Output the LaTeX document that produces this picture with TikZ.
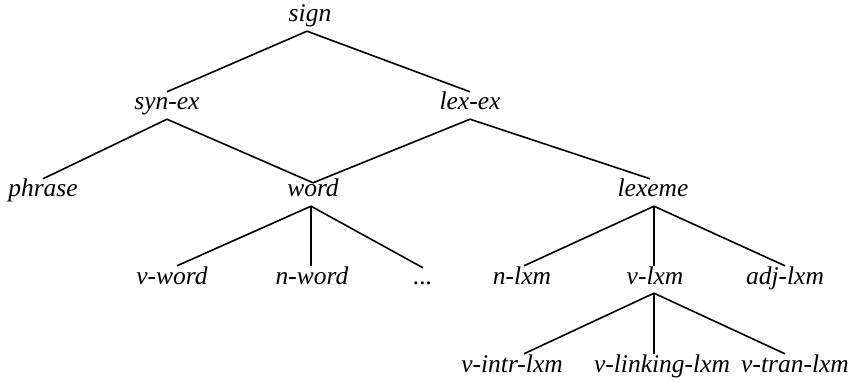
\documentclass[tikz,border=0pt]{standalone}
\usepackage{fontspec}
\setmainfont{Liberation Serif}
\newfontfamily\tyfont{Liberation Serif}[UprightFont={* Italic}]
\begin{document}
\begin{tikzpicture}[x=1pt,y=-1pt,
  typ/.style={anchor=base,inner xsep=0pt,inner ysep=1pt,text height=17pt,text depth=8pt,
    font=\tyfont\fontsize{25.5}{29}\selectfont},
  edge/.style={line width=1.6pt}]
\useasboundingbox (0,0) rectangle (857,382);
\node[typ] (sign) at (310,22) {sign};
\node[typ] (synex) at (167,110) {syn-ex};
\node[typ] (lexex) at (470,110) {lex-ex};
\node[typ] (phrase) at (43,197) {phrase};
\node[typ] (word) at (313,197) {word};
\node[typ] (lexeme) at (653,197) {lexeme};
\node[typ] (vword) at (172,284) {v-word};
\node[typ] (nword) at (312,284) {n-word};
\node[typ] (dots) at (423,284) {...};
\node[typ] (nlxm) at (522,284) {n-lxm};
\node[typ] (vlxm) at (655,284) {v-lxm};
\node[typ] (adjlxm) at (785,284) {adj-lxm};
\node[typ] (vintr) at (512,372) {v-intr-lxm};
\node[typ] (vlink) at (662,372) {v-linking-lxm};
\node[typ] (vtran) at (795,372) {v-tran-lxm};
\draw[edge] ([xshift=-3pt]sign.south) -- (synex.north);
\draw[edge] ([xshift=-3pt]sign.south) -- (lexex.north);
\draw[edge] (synex.south) -- (phrase.north);
\draw[edge] (synex.south) -- ([yshift=-4pt]word.north);
\draw[edge] (lexex.south) -- ([yshift=-4pt]word.north);
\draw[edge] (lexex.south) -- ([xshift=-3pt]lexeme.north);
\draw[edge] ([xshift=-2pt]word.south) -- ([xshift=5pt]vword.north);
\draw[edge] ([xshift=-2pt]word.south) -- ([xshift=-1pt]nword.north);
\draw[edge] ([xshift=-2pt]word.south) -- ([yshift=-2pt]dots.north);
\draw[edge] ([xshift=1pt]lexeme.south) -- ([xshift=2pt]nlxm.north);
\draw[edge] ([xshift=1pt]lexeme.south) -- ([xshift=-1pt]vlxm.north);
\draw[edge] ([xshift=1pt]lexeme.south) -- (adjlxm.north);
\draw[edge] ([xshift=-1pt]vlxm.south) -- ([xshift=12pt]vintr.north);
\draw[edge] ([xshift=-1pt]vlxm.south) -- ([xshift=-8pt]vlink.north);
\draw[edge] ([xshift=-1pt]vlxm.south) -- ([xshift=-10pt]vtran.north);
\end{tikzpicture}
\end{document}
